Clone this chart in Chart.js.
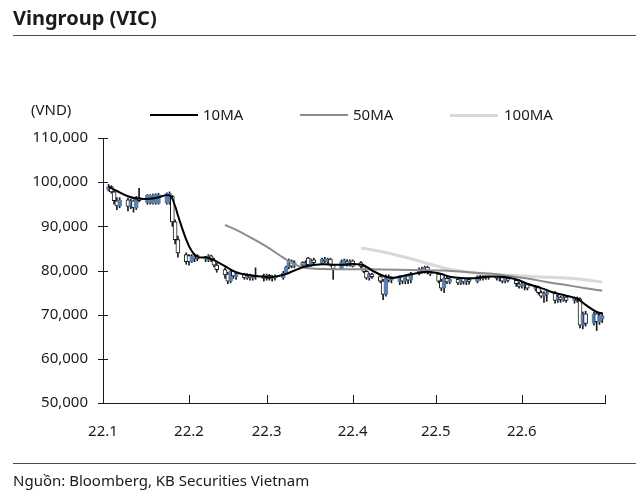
<!DOCTYPE html>
<html><head><meta charset="utf-8">
<script src="https://cdn.jsdelivr.net/npm/chart.js@4/dist/chart.umd.min.js"></script>
<style>
html,body{margin:0;padding:0;background:#fff;}
#wrap{position:relative;width:640px;height:499px;font-family:"Noto Sans",sans-serif;color:#1a1a1a;overflow:hidden;}
canvas{position:absolute;left:0;top:0;}
.t{position:absolute;white-space:nowrap;line-height:1;}
.rule{position:absolute;left:13px;width:623px;height:1px;background:#4d4d4d;}
.lg{position:absolute;width:48px;}
</style></head><body>
<div id="wrap">
<canvas id="c" width="640" height="499"></canvas>
<div class="t" style="left:13px;top:8px;font-size:20px;font-weight:bold;">Vingroup (VIC)</div>
<div class="rule" style="top:35px;"></div>
<div class="t" style="left:31px;top:102px;font-size:15px;">(VND)</div>
<div class="lg" style="left:150px;top:114px;height:2px;background:#000;"></div>
<div class="t" style="left:203px;top:107px;font-size:15px;">10MA</div>
<div class="lg" style="left:300px;top:114px;height:2px;background:#8c8c8c;"></div>
<div class="t" style="left:353px;top:107px;font-size:15px;">50MA</div>
<div class="lg" style="left:450px;top:114px;height:3px;background:#d9d9d9;"></div>
<div class="t" style="left:504px;top:107px;font-size:15px;">100MA</div>
<div class="rule" style="top:463px;"></div>
<div class="t" style="left:13px;top:473px;font-size:15px;">Nguồn: Bloomberg, KB Securities Vietnam</div>
</div>
<script>
// ---- data ----
const dates = [
'01-03','01-04','01-05','01-06','01-07','01-10','01-11','01-12','01-13','01-14','01-17','01-18','01-19','01-20','01-21','01-24','01-25','01-26','01-27','01-28','01-31',
'02-01','02-02','02-03','02-04','02-07','02-08','02-09','02-10','02-11','02-14','02-15','02-16','02-17','02-18','02-21','02-22','02-23','02-24','02-25','02-28',
'03-01','03-02','03-03','03-04','03-07','03-08','03-09','03-10','03-11','03-14','03-15','03-16','03-17','03-18','03-21','03-22','03-23','03-24','03-25','03-28','03-29','03-30','03-31',
'04-01','04-04','04-05','04-06','04-07','04-08','04-11','04-12','04-13','04-14','04-15','04-18','04-19','04-20','04-21','04-22','04-25','04-26','04-27','04-28','04-29',
'05-02','05-03','05-04','05-05','05-06','05-09','05-10','05-11','05-12','05-13','05-16','05-17','05-18','05-19','05-20','05-23','05-24','05-25','05-26','05-27','05-30','05-31',
'06-01','06-02','06-03','06-06','06-07','06-08','06-09','06-10','06-13','06-14','06-15','06-16','06-17','06-20','06-21','06-22','06-23','06-24','06-27','06-28','06-29','06-30'];
const openV = [
98200,99000,97800,95800,94600,96000,94500,95800,94200,96500,95400,95300,95200,95300,95200,95300,95400,96800,91000,87000,83600,
83400,82000,82600,83400,82600,82400,83300,82400,81200,80200,79200,77600,79800,78600,79200,78400,79000,78300,78600,78900,
78200,78900,78200,78600,78400,79500,80800,82200,81000,81800,81200,82800,81300,82400,81600,82600,82000,82600,81200,80400,81400,82000,81200,
82200,81800,80900,79800,78300,79200,78600,77600,74600,78600,77800,77400,78600,77600,78800,77800,79300,80300,79600,80800,79600,
79200,77600,76000,78200,77400,78000,77200,78200,77400,78000,77500,78600,78200,78800,78400,78800,78200,78400,77600,78200,77800,77000,
76400,76400,76800,75800,76300,75000,74200,74600,75000,73200,74000,73400,74000,73200,73800,73600,67600,70200,68000,70200,68400,69000];
const highV = [
99500,99200,98000,96500,96500,96400,96200,96000,96800,98600,97200,97200,97300,97400,97500,97600,97800,97000,91500,87800,84000,
83600,83600,83800,83600,83200,83600,83500,82800,81600,80600,79600,80200,80000,79600,79400,79300,79200,79000,80600,79200,
79200,79100,78900,79000,79800,81000,82600,82400,82200,82000,82200,83000,82600,82800,82800,83000,82800,82800,81400,82400,82600,82500,82400,
82400,82000,81200,80000,79400,79400,79000,78000,79000,79000,78600,78800,78900,79000,79200,79600,80600,80800,81000,81000,80000,
79400,78000,78600,78500,78400,78200,78400,78400,78200,78300,78800,79000,79000,79200,79000,79000,78600,78600,78400,78500,78000,77400,
77400,77200,77000,76600,76500,75400,75200,75200,75200,74400,74200,74400,74200,74000,74000,73800,70600,70800,70600,70600,70400,70400];
const lowV = [
98000,97500,95000,93800,94200,93500,94000,93200,93800,95500,95000,95000,95000,95000,95000,95000,95000,90000,86000,83000,81400,
81200,81800,82000,82200,82000,82000,82000,80800,79600,78200,77000,77200,78200,78000,78000,78000,77800,77800,78000,77600,
77800,77800,77600,77800,78000,79200,80400,80600,80600,80800,80600,81000,81000,81400,81400,81800,81600,81000,78000,80200,81200,81000,81000,
80800,80600,79500,78000,77800,78200,77200,73400,74200,77400,77200,76800,77000,77000,77000,77200,79000,79400,79400,79200,78800,
77200,75400,75000,77000,77000,76800,76800,76900,76800,76900,77200,77800,77800,78000,78000,77800,77600,77200,77200,77400,76400,76000,
76000,75600,75600,75400,74600,73800,72800,73000,72600,72800,72800,73000,72800,72600,72800,67000,66800,67400,67600,66400,67800,68200];
const closeV = [
99000,97800,95800,94600,96000,94500,95800,94200,96500,95800,97000,97000,97100,97200,97200,97400,97500,91000,87000,84000,82000,
82000,83200,83400,82600,82800,83300,82400,81200,80200,79000,77600,79800,78800,79200,78400,79000,78300,78600,78900,78200,
78900,78200,78600,78400,79500,80800,82200,81000,81800,81200,81600,81300,82400,81800,82600,82200,82600,81400,80400,82000,82400,81600,82200,
81000,80900,79800,78300,79200,78600,77600,74600,78600,77800,78200,78600,77600,78800,77800,79300,80300,79800,80800,79600,79200,
77600,76000,78200,77400,78000,77200,78200,77400,78000,77500,78600,78200,78800,78400,78800,78200,78400,77600,78200,77800,77000,76400,
77000,76800,76000,76300,75000,74200,74800,75000,73200,74000,73400,74000,73200,73800,73200,67600,70200,68000,70200,68400,69800,69800];

const ma10Dates = ['01-03','01-06','01-10','01-13','01-17','01-20','01-25','01-27','01-28','01-31','02-02','02-04','02-08','02-11','02-15','02-18','02-22','02-28','03-03','03-08','03-11','03-15','03-21','03-25','03-30','04-01','04-05','04-08','04-12','04-15','04-20','04-25','04-28','05-03','05-06','05-10','05-16','05-19','05-24','05-27','05-31','06-03','06-08','06-13','06-17','06-21','06-24','06-28','06-30'];
const ma10 = [99000,98000,96800,96300,96200,96400,97000,94600,92500,87000,84400,83100,82900,82000,80600,79600,79000,78600,78500,79200,80000,80900,81400,81300,81300,81500,81200,80000,78800,78300,78900,79500,79700,79200,78600,78300,78300,78600,78600,78400,77800,77000,76000,74900,74300,73600,72200,70600,70300];
const ma50Dates = ['02-14','02-18','02-24','03-01','03-07','03-11','03-16','03-24','04-01','04-12','04-22','05-04','05-13','05-20','05-27','06-03','06-10','06-17','06-24','06-30'];
const ma50 = [90300,89200,87200,85400,82900,81400,80500,80300,80300,80200,80100,80000,79600,79300,78800,78200,77400,76700,76000,75400];
const ma100Dates = ['04-04','04-12','04-20','04-28','05-06','05-16','05-25','06-03','06-13','06-21','06-30'];
const ma100 = [85100,84200,83000,81600,80300,79400,79000,78700,78400,78100,77400];

const monthStarts = ['01-01','02-01','03-01','04-01','05-01','06-01','07-01'];
const monthLabels = ['22.1','22.2','22.3','22.4','22.5','22.6',''];
const yTickValues = [50000,60000,70000,80000,90000,100000,110000];

// ---- helpers ----
function dayIdx(s){const [m,d]=s.split('-').map(Number);return (Date.UTC(2022,m-1,d)-Date.UTC(2022,0,1))/86400000;}
const BLUE='#5b7fae';
const upFlags = dates.map((d,i)=>closeV[i]>=openV[i]);
const wicks = dates.map((d,i)=>({x:dayIdx(d),y:[lowV[i],highV[i]]}));
const bodies = dates.map((d,i)=>({x:dayIdx(d),y:[openV[i],closeV[i]]}));
const pts = (ds,vs)=>ds.map((d,i)=>({x:dayIdx(d),y:vs[i]}));
const monthIdx = monthStarts.map(dayIdx);

const tickMarks = {
  id:'tickMarks',
  afterDraw(chart){
    const {ctx,scales:{x,y},chartArea}=chart;
    ctx.save();ctx.strokeStyle='#1a1a1a';ctx.lineWidth=1;
    y.ticks.forEach(t=>{const py=Math.round(y.getPixelForValue(t.value))+0.5;ctx.beginPath();ctx.moveTo(chartArea.left-5,py);ctx.lineTo(chartArea.left+5,py);ctx.stroke();});
    x.ticks.forEach(t=>{const px=Math.round(x.getPixelForValue(t.value))+0.5;ctx.beginPath();ctx.moveTo(px,chartArea.bottom);ctx.lineTo(px,chartArea.bottom-8);ctx.stroke();});
    ctx.restore();
  }
};

new Chart(document.getElementById('c'),{
  data:{datasets:[
    {type:'line',label:'10MA',data:pts(ma10Dates,ma10),borderColor:'#000',borderWidth:2,pointRadius:0,tension:0.35,order:0},
    {type:'line',label:'50MA',data:pts(ma50Dates,ma50),borderColor:'#8c8c8c',borderWidth:2,pointRadius:0,tension:0.35,order:1},
    {type:'line',label:'100MA',data:pts(ma100Dates,ma100),borderColor:'#d9d9d9',borderWidth:3,pointRadius:0,tension:0.35,order:2},
    {type:'bar',label:'body',data:bodies,grouped:false,barThickness:4,borderSkipped:false,borderWidth:1,
      backgroundColor:upFlags.map(u=>u?BLUE:'#ffffff'),borderColor:upFlags.map(u=>u?BLUE:'#1a1a1a'),order:3},
    {type:'bar',label:'wick',data:wicks,grouped:false,barThickness:1,borderWidth:0,backgroundColor:'#1a1a1a',order:4}
  ]},
  options:{
    responsive:false,animation:false,devicePixelRatio:1,
    layout:{padding:{left:0,right:35,top:138,bottom:0}},
    plugins:{legend:{display:false},tooltip:{enabled:false},title:{display:false}},
    scales:{
      x:{type:'linear',min:monthIdx[0],max:monthIdx[monthIdx.length-1],offset:false,
        grid:{display:false,drawTicks:false,offset:false},
        border:{display:true,color:'#1a1a1a',width:1},
        afterBuildTicks(s){s.ticks=monthIdx.map(v=>({value:v}));},
        afterFit(s){s.height=96;},
        ticks:{autoSkip:false,maxRotation:0,padding:20,color:'#1a1a1a',font:{family:'"Noto Sans"',size:15},
          callback(v){const i=monthIdx.indexOf(v);return i>=0?monthLabels[i]:'';}}
      },
      y:{type:'linear',min:50000,max:110000,
        grid:{display:false,drawTicks:false},
        border:{display:true,color:'#1a1a1a',width:1},
        afterBuildTicks(s){s.ticks=yTickValues.map(v=>({value:v}));},
        afterFit(s){s.width=103;},
        ticks:{padding:15,color:'#1a1a1a',font:{family:'"Noto Sans"',size:15},
          callback(v){return v.toLocaleString('en-US');}}
      }
    }
  },
  plugins:[tickMarks]
});
</script>
</body></html>
